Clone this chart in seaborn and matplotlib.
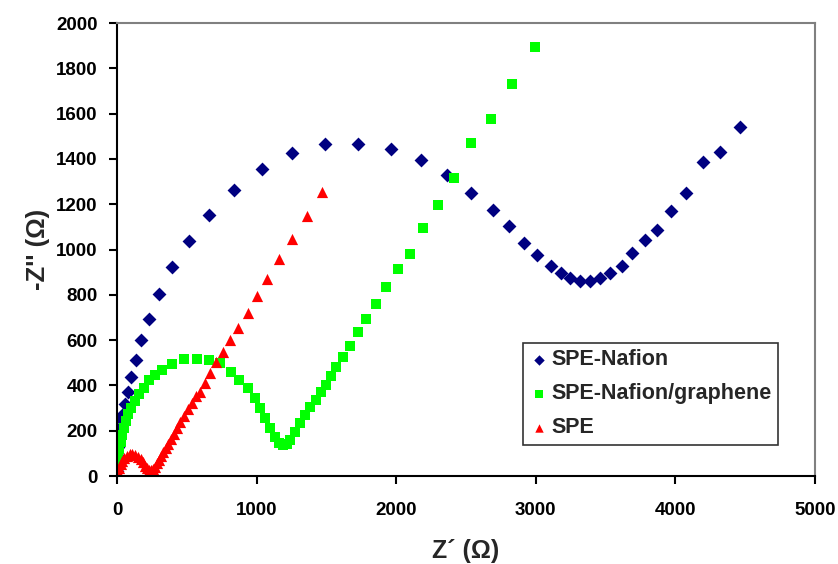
import pandas as pd
import matplotlib
matplotlib.use("Agg")
import matplotlib.pyplot as plt
import seaborn as sns

# SPE-Nafion (Z', -Z'')
nafion_x = [2, 4, 6, 8, 12, 18, 28, 40, 57, 80, 100, 138, 169, 229, 300, 396, 515, 658, 835,
            1038, 1251, 1492, 1728, 1962, 2177, 2366, 2535, 2690, 2810, 2913, 3011, 3106, 3178,
            3247, 3316, 3390, 3459, 3531, 3614, 3686, 3782, 3865, 3970, 4078, 4197, 4317, 4460]
nafion_y = [20, 50, 90, 130, 170, 210, 250, 272, 317, 370, 437, 511, 599, 692, 802, 921, 1037,
            1152, 1263, 1357, 1425, 1467, 1467, 1445, 1394, 1330, 1249, 1176, 1102, 1029, 977,
            927, 898, 876, 860, 860, 876, 898, 927, 987, 1043, 1087, 1169, 1248, 1388, 1432, 1542]

# SPE-Nafion/graphene
graph_x = [0, 2, 5, 10, 17, 25, 35, 47, 62, 80, 100, 125, 155, 190, 230, 270, 320, 395, 482,
           573, 658, 740, 819, 873, 938, 986, 1021, 1057, 1093, 1129, 1160, 1188, 1215, 1240,
           1272, 1308, 1344, 1380, 1425, 1464, 1499, 1535, 1570, 1618, 1666, 1726, 1786, 1858,
           1929, 2012, 2096, 2189, 2297, 2416, 2535, 2676, 2832, 2996]
graph_y = [0, 30, 60, 90, 120, 150, 180, 210, 245, 275, 300, 330, 360, 390, 425, 448, 470, 493,
           515, 517, 512, 497, 460, 424, 387, 343, 299, 255, 211, 174, 145, 135, 140, 160, 195,
           232, 270, 305, 336, 372, 402, 441, 483, 524, 576, 634, 692, 759, 833, 913, 980, 1095,
           1198, 1316, 1469, 1578, 1731, 1893]

# SPE
spe_x = [3, 8, 15, 25, 37, 52, 70, 90, 110, 130, 150, 168, 185, 200, 215, 230, 245, 258, 270,
         285, 300, 315, 330, 347, 365, 385, 405, 428, 452, 478, 505, 535, 565, 592, 628, 663,
         711, 759, 807, 866, 935, 1005, 1077, 1160, 1256, 1363, 1470]
spe_y = [3, 18, 35, 52, 67, 80, 90, 96, 97, 94, 86, 74, 60, 46, 35, 28, 27, 32, 42, 56, 72, 88,
         104, 122, 141, 163, 185, 210, 237, 265, 294, 323, 352, 372, 409, 456, 505, 549, 600, 655,
         721, 795, 868, 957, 1045, 1148, 1255]

sns.set_style("ticks")
plt.rcParams["font.family"] = ["Liberation Sans", "DejaVu Sans"]
plt.rcParams["font.weight"] = "bold"

fig = plt.figure(figsize=(8.38, 5.64), dpi=100)
ax = fig.add_axes([0.1397, 0.156, 0.8329, 0.803])

sns.scatterplot(x=nafion_x, y=nafion_y, ax=ax, marker="D", color="#000080", s=50,
                linewidth=0, label="SPE-Nafion")
sns.scatterplot(x=graph_x, y=graph_y, ax=ax, marker="s", color="#00FF00", s=55,
                linewidth=0, label="SPE-Nafion/graphene")
sns.scatterplot(x=spe_x, y=spe_y, ax=ax, marker="^", color="#FF0000", s=65,
                linewidth=0, label="SPE")

ax.set_xlim(0, 5000)
ax.set_ylim(0, 2000)
ax.set_xticks(range(0, 5001, 1000))
ax.set_yticks(range(0, 2001, 200))
ax.tick_params(axis="both", direction="out", length=6, width=1.5, labelsize=13.5, colors="black")
ax.tick_params(axis="x", pad=13)
ax.tick_params(axis="y", pad=8)
for lab in ax.get_xticklabels() + ax.get_yticklabels():
    lab.set_fontweight("bold")

for side in ["left", "bottom"]:
    ax.spines[side].set_color("black")
    ax.spines[side].set_linewidth(1.5)
for side in ["top", "right"]:
    ax.spines[side].set_visible(True)
    ax.spines[side].set_color("#808080")
    ax.spines[side].set_linewidth(1.5)

ax.set_xlabel("Z\u00b4 (\u03a9)", fontsize=18, fontweight="bold", labelpad=14)
ax.set_ylabel("-Z'' (\u03a9)", fontsize=18.5, fontweight="bold", labelpad=4)

leg = ax.legend(loc="upper left", bbox_to_anchor=(0.582, 0.294), borderaxespad=0,
                fancybox=False, frameon=True, edgecolor="black",
                prop={"weight": "bold", "size": 15.5}, handletextpad=0.1,
                handlelength=0.9, markerscale=0.75, borderpad=0.3, labelspacing=0.6)
leg.get_frame().set_linewidth(1.2)

fig.savefig("out.png", dpi=100)
